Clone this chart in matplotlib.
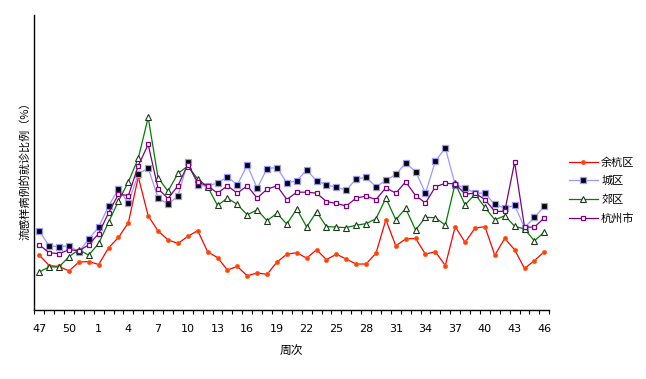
import matplotlib
matplotlib.use("Agg")
import matplotlib.pyplot as plt
import numpy as np

plt.rcParams['font.family'] = ['Noto Sans CJK SC', 'DejaVu Sans']

weeks = [47, 48, 49, 50, 51, 52] + list(range(1, 47))

yuhang = [1.12, 0.91, 0.89, 0.80, 0.98, 0.99, 0.93, 1.27, 1.48, 1.78, 2.71, 1.92, 1.61, 1.43, 1.36,
          1.50, 1.62, 1.19, 1.07, 0.82, 0.89, 0.70, 0.76, 0.73, 0.98, 1.14, 1.17, 1.06, 1.23, 1.03,
          1.14, 1.04, 0.94, 0.94, 1.16, 1.84, 1.31, 1.45, 1.46, 1.14, 1.19, 0.91, 1.70, 1.38, 1.67,
          1.70, 1.12, 1.46, 1.23, 0.85, 1.01, 1.19]
chengqu = [1.61, 1.31, 1.29, 1.31, 1.19, 1.45, 1.69, 2.12, 2.46, 2.18, 2.77, 2.89, 2.28, 2.16, 2.32,
           3.02, 2.54, 2.52, 2.59, 2.71, 2.55, 2.95, 2.48, 2.88, 2.90, 2.59, 2.63, 2.85, 2.63, 2.55,
           2.50, 2.44, 2.67, 2.70, 2.51, 2.64, 2.76, 2.99, 2.82, 2.38, 3.03, 3.30, 2.55, 2.49, 2.38,
           2.38, 2.15, 2.08, 2.13, 1.68, 1.89, 2.11]
jiaoqu = [0.78, 0.88, 0.88, 1.09, 1.23, 1.12, 1.36, 1.79, 2.22, 2.61, 3.09, 3.92, 2.69, 2.42, 2.78,
          2.93, 2.67, 2.51, 2.13, 2.28, 2.15, 1.94, 2.04, 1.82, 1.97, 1.75, 2.06, 1.69, 2.00, 1.70,
          1.69, 1.68, 1.73, 1.76, 1.86, 2.28, 1.84, 2.07, 1.63, 1.89, 1.88, 1.73, 2.58, 2.14, 2.36,
          2.09, 1.84, 1.92, 1.71, 1.65, 1.41, 1.59]
hangzhou = [1.33, 1.17, 1.15, 1.23, 1.21, 1.33, 1.56, 1.98, 2.36, 2.33, 2.94, 3.37, 2.47, 2.27, 2.53,
            2.96, 2.60, 2.53, 2.38, 2.53, 2.38, 2.53, 2.28, 2.46, 2.53, 2.25, 2.40, 2.40, 2.38, 2.21,
            2.17, 2.12, 2.28, 2.32, 2.25, 2.49, 2.38, 2.61, 2.33, 2.18, 2.51, 2.58, 2.57, 2.36, 2.38,
            2.25, 2.01, 2.01, 3.01, 1.69, 1.69, 1.88]

names = ['余杭区', '城区', '郊区', '杭州市']

fig = plt.figure(figsize=(6.46, 3.79), dpi=100)
ax = fig.add_axes([0.0531, 0.1813, 0.7972, 0.7791])

x = np.arange(len(weeks))
ax.plot(x, yuhang, color='#FF0000', lw=0.9, marker='o', ms=2.9, mfc='#FF4000', mec='#FF6020', mew=0.6, label=names[0])
ax.plot(x, chengqu, color='#9999FF', lw=0.9, marker='s', ms=3.9, mfc='#000000', mec='#9999FF', mew=0.9, label=names[1])
ax.plot(x, jiaoqu, color='#008000', lw=0.9, marker='^', ms=5.0, mfc='white', mec='#1a3a1a', mew=0.8, label=names[2])
ax.plot(x, hangzhou, color='#800080', lw=0.9, marker='s', ms=3.3, mfc='white', mec='#800080', mew=0.9, label=names[3])

ax.set_xlim(-0.5, len(weeks) - 0.5)
ax.set_ylim(0, 6)

ax.set_xticks(np.arange(-0.5, len(weeks), 1.0))
ax.set_xticklabels([])
ax.tick_params(axis='x', which='major', direction='out', length=3, width=0.8, color='black')
lab_idx = np.arange(0, len(weeks), 3)
ax.set_xticks(lab_idx, minor=True)
ax.set_xticklabels([str(weeks[i]) for i in lab_idx], minor=True, fontsize=8, family=['DejaVu Sans'])
ax.tick_params(axis='x', which='minor', length=0, pad=10)

ax.set_yticks([])
for s in ['top', 'right']:
    ax.spines[s].set_visible(False)
for s in ['left', 'bottom']:
    ax.spines[s].set_linewidth(1.0)
    ax.spines[s].set_color('black')

ax.set_xlabel('周次', fontsize=8.5, labelpad=8)
fig.text(0.039, 0.557, '流感样病例的就诊比例（%）', rotation=90, fontsize=8, ha='center', va='center')

leg = fig.legend(loc='upper left', bbox_to_anchor=(0.872, 0.6), frameon=False, fontsize=8,
                 handlelength=2.6, handletextpad=0.3, labelspacing=0.75, borderpad=0)

fig.savefig('out.png', dpi=100)
